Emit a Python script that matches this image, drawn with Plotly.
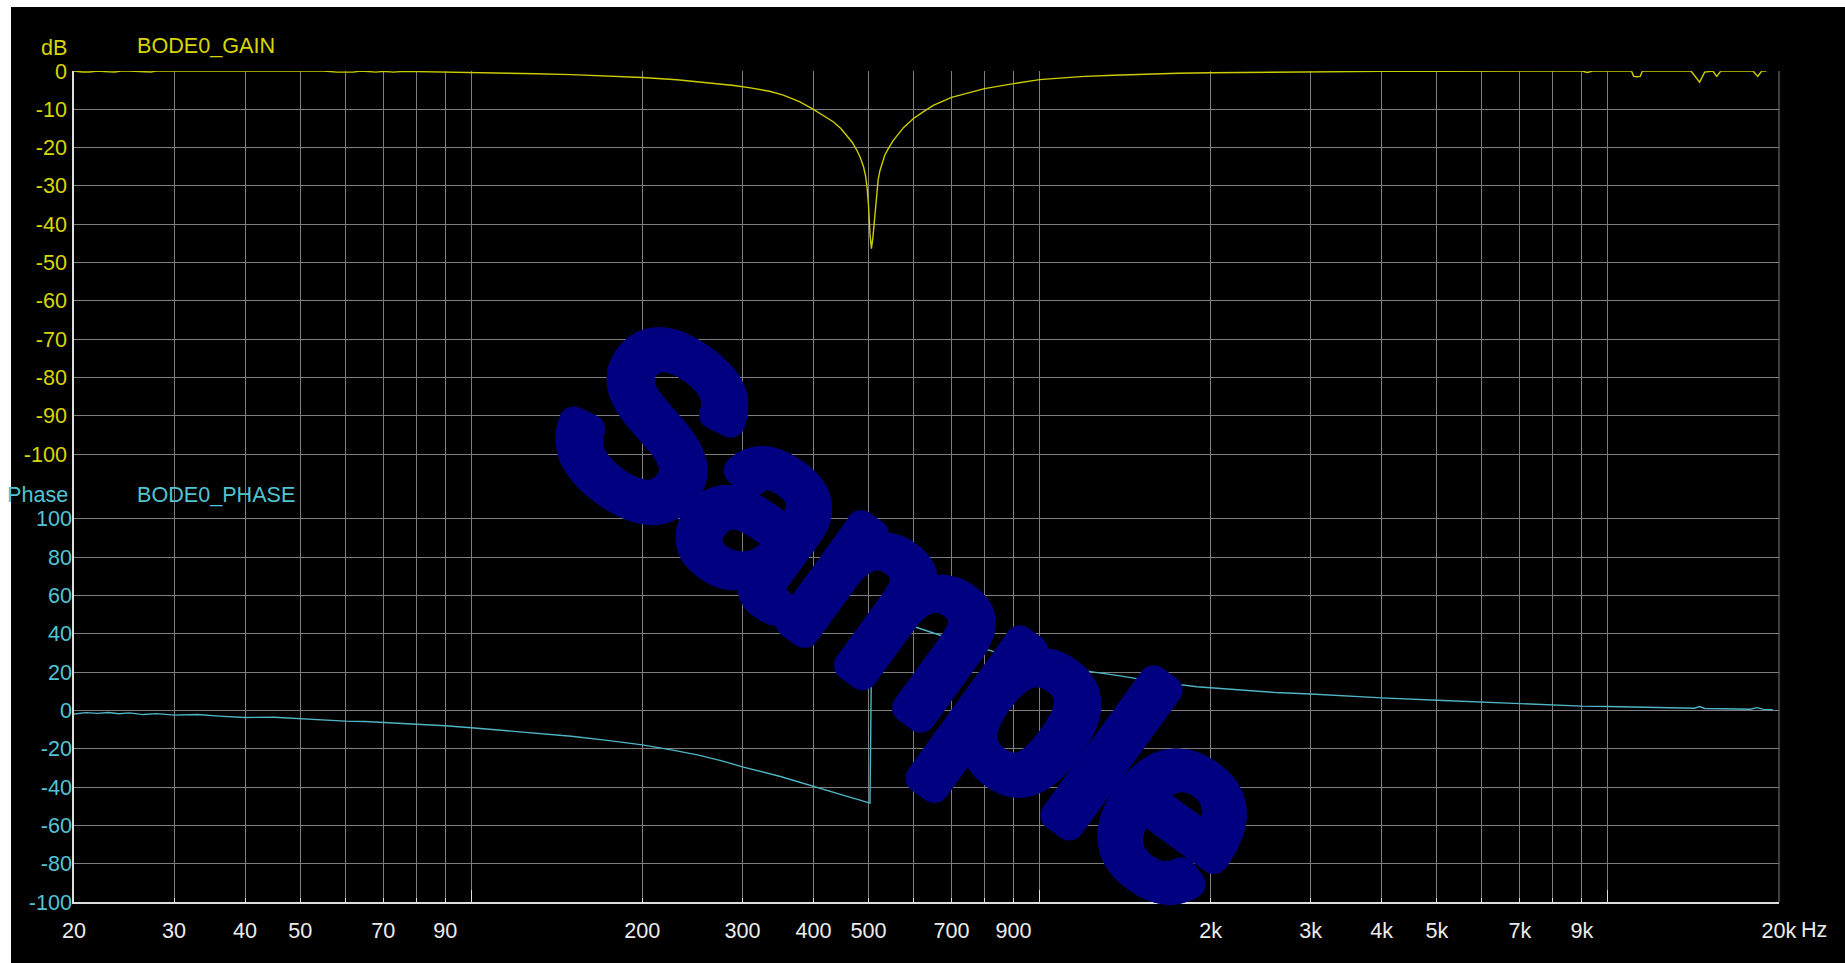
import math
import plotly.graph_objects as go

# ---------------- data ----------------
gain_freq = [20, 20.7, 21.3, 22, 23, 23.6, 24.2, 25, 26.7, 27.3, 27.9, 29, 32, 35, 40, 45, 50,
             55, 58, 60, 62, 64, 66, 68, 70, 73, 76, 80, 90, 100, 115, 130, 150, 175, 200,
             230, 260, 290, 310, 335, 354, 378, 400, 420, 434, 447, 458, 468, 477, 484, 490,
             494, 497, 500, 503, 506, 509, 511, 514, 517, 520, 524, 534, 543, 553, 576, 600,
             625, 650, 700, 750, 800, 900, 1000, 1100, 1200, 1350, 1500, 1750, 2000, 2500,
             3000, 4000, 5000, 7000, 9000, 9200, 9400, 11000, 11100, 11250, 11400, 11500,
             14000, 14500, 14800, 15300, 15540, 15800, 18000, 18350, 18650, 19000]
gain_db = [0.0, -0.25, -0.25, 0.0, -0.2, -0.25, 0.0, 0.0, -0.2, -0.25, 0.0, 0.0, 0.0, 0.0, 0.0, 0.0, 0.0,
           0.0, -0.3, -0.2, -0.3, 0.0, -0.25, -0.3, -0.1, -0.3, -0.1, -0.15, -0.25, -0.4, -0.55, -0.7, -0.95, -1.3, -1.7,
           -2.3, -3.0, -3.8, -4.4, -5.3, -6.3, -8.0, -10.0, -11.9, -13.3, -15.0, -16.8, -18.6, -20.7, -22.7, -25.0,
           -27.3, -30.3, -35.0, -42.4, -46.4, -43.5, -40.7, -35.5, -31.1, -28.3, -25.9, -22.0, -20.0, -18.1, -14.8, -12.4,
           -10.6, -9.0, -6.9, -5.7, -4.6, -3.3, -2.25, -1.8, -1.4, -1.1, -0.85, -0.6, -0.45, -0.3,
           -0.2, -0.1, -0.05, 0.0, 0.0, -0.4, 0.0, 0.0, -1.4, -1.5, -1.4, 0.0,
           0.0, -2.9, -0.3, 0.0, -1.4, 0.0, 0.0, -1.4, 0.0, 0.0]

phase_freq = [20, 21, 22, 23, 24, 25, 26.5, 28, 30, 33, 36, 40, 45, 50, 55, 60, 65, 70, 75, 80,
              90, 100, 115, 133, 150, 175, 200, 225, 250, 275, 300, 350, 400, 430, 460, 480,
              495, 503, 507, 520, 550, 597, 646, 724, 846, 974, 1178, 1358, 1600, 1890, 2200,
              2600, 3000, 3500, 4000, 5000, 6000, 7000, 8000, 9000, 10000, 12000, 14200,
              14500, 14800, 16000, 17800, 18300, 18800, 19500]
phase_deg = [-1.9, -1.2, -1.6, -1.1, -1.8, -1.3, -2.2, -1.7, -2.5, -2.2, -3.0, -3.7, -3.6, -4.4, -4.8,
             -5.6, -5.8, -6.3, -6.8, -7.2, -8.0, -9.1, -10.5, -12.0, -13.5, -15.8, -18.0, -20.6,
             -23.2, -26.2, -29.5, -34.5, -39.8, -42.4, -45.0, -46.6, -47.6, -48.4, 47.0, 46.6,
             45.5, 44.0, 40.5, 35.8, 30.0, 26.2, 21.0, 18.4, 15.0, 12.3, 10.8, 9.3, 8.5, 7.4,
             6.5, 5.3, 4.3, 3.4, 2.8, 2.2, 2.0, 1.5, 1.1, 2.0, 1.0, 0.8, 0.6, 1.4, 0.5, 0.3]

x_tickvals = [20, 30, 40, 50, 60, 70, 80, 90, 100, 200, 300, 400, 500, 600, 700, 800, 900,
              1000, 2000, 3000, 4000, 5000, 6000, 7000, 8000, 9000, 10000, 20000]
x_ticktext = ["20", "30", "40", "50", "", "70", "", "90", "", "200", "300", "400", "500", "",
              "700", "", "900", "", "2k", "3k", "4k", "5k", "", "7k", "", "9k", "", "20k"]
decade_ticks = [100, 1000, 10000]
gain_ticks = [0, -10, -20, -30, -40, -50, -60, -70, -80, -90, -100]
phase_ticks = [100, 80, 60, 40, 20, 0, -20, -40, -60, -80, -100]

# ---------------- geometry / style ----------------
W, H = 1845, 963
ML, MR, MT, MB = 74, 66, 71, 61
PW, PH = W - ML - MR, H - MT - MB
GAIN_TOP_PX, GAIN_BOT_PX = 71.0, 454.0      # 0 dB and -100 dB rows
PHASE_TOP_PX, PHASE_BOT_PX = 518.7, 902.0    # +100 and -100 deg rows


def px2x(px):
    return (px - ML) / PW


def py2y(py):
    return (H - MB - py) / PH


gain_per_px = 100.0 / (GAIN_BOT_PX - GAIN_TOP_PX)
gain_range = [0 - (H - MB - GAIN_TOP_PX) * gain_per_px, 0 + (GAIN_TOP_PX - MT) * gain_per_px]
ph_per_px = 200.0 / (PHASE_BOT_PX - PHASE_TOP_PX)
phase_range = [-100 - (H - MB - PHASE_BOT_PX) * ph_per_px, 100 + (PHASE_TOP_PX - MT) * ph_per_px]

FONT = "Liberation Sans, Arial, sans-serif"
FS = 21.6
YEL = "#d6d600"
YEL_LINE = "#cccc00"
CYAN = "#52c3d3"
CYAN_LINE = "#4fb4c4"
GRID = "#7d7d7d"
AXW = "#dedede"
TXT = "#ececec"
NAVY = "#000080"

xr = [math.log10(20), math.log10(20000)]

fig = go.Figure()
fig.add_trace(go.Scatter(x=gain_freq, y=gain_db, mode="lines", line=dict(color=YEL_LINE, width=1.4),
                         xaxis="x", yaxis="y", hoverinfo="skip"))
fig.add_trace(go.Scatter(x=phase_freq, y=phase_deg, mode="lines", line=dict(color=CYAN_LINE, width=1.4),
                         xaxis="x", yaxis="y2", hoverinfo="skip"))
fig.add_trace(go.Scatter(x=[], y=[], xaxis="x2", yaxis="y", hoverinfo="skip"))

# outline-like halo for the watermark
shadow = []
for r in (13, 9.5, 6, 3):
    for k in range(0, 360, 12):
        a = math.radians(k)
        shadow.append(f"{r*math.cos(a):.1f}px {r*math.sin(a):.1f}px 0px {NAVY}")
shadow = ", ".join(shadow)

fig.update_layout(
    width=W, height=H,
    margin=dict(l=ML, r=MR, t=MT, b=MB, pad=0),
    paper_bgcolor="white",
    plot_bgcolor="black",
    showlegend=False,
    hovermode=False,
    xaxis=dict(type="log", range=xr, tickmode="array", tickvals=x_tickvals, ticktext=x_ticktext,
               showgrid=True, gridcolor=GRID, gridwidth=1, zeroline=False,
               ticks="inside", ticklen=4, tickcolor=AXW, tickwidth=1,
               showline=True, linecolor=AXW, linewidth=1.5,
               tickfont=dict(family=FONT, size=FS, color=TXT), ticklabelstandoff=8),
    xaxis2=dict(type="log", range=xr, overlaying="x", anchor="y", side="bottom",
                tickmode="array", tickvals=decade_ticks, showticklabels=False,
                ticks="inside", ticklen=12, tickcolor=AXW, tickwidth=1,
                showgrid=False, zeroline=False, showline=False),
    yaxis=dict(range=gain_range, tickmode="array", tickvals=gain_ticks,
               ticktext=[str(v) for v in gain_ticks],
               showgrid=True, gridcolor=GRID, gridwidth=1, zeroline=False,
               showline=True, linecolor=AXW, linewidth=1.5, ticks="",
               tickfont=dict(family=FONT, size=FS, color=YEL), ticklabelstandoff=1),
    yaxis2=dict(range=phase_range, overlaying="y", side="left", anchor="x",
                tickmode="array", tickvals=phase_ticks, ticktext=[str(v) for v in phase_ticks],
                showgrid=True, gridcolor=GRID, gridwidth=1, zeroline=False,
                showline=False, ticks="",
                tickfont=dict(family=FONT, size=FS, color=CYAN), ticklabelstandoff=1),
)

# black canvas (white margin at top and left like the reference)
fig.add_shape(type="rect", xref="paper", yref="paper",
              x0=px2x(11), x1=px2x(W + 5), y0=py2y(H + 5), y1=py2y(7),
              fillcolor="black", line=dict(width=0), layer="below")
# right border of the plot
fig.add_shape(type="line", xref="paper", yref="paper", x0=1, x1=1, y0=0, y1=1,
              line=dict(color=GRID, width=1), layer="below")

ann = [
    dict(text="dB", x=px2x(69), y=py2y(47), xanchor="right", yanchor="middle",
         font=dict(family=FONT, size=FS, color=YEL)),
    dict(text="BODE0_GAIN", x=px2x(135), y=py2y(46), xanchor="left", yanchor="middle",
         font=dict(family=FONT, size=FS, color=YEL)),
    dict(text="Phase", x=px2x(70), y=py2y(494), xanchor="right", yanchor="middle",
         font=dict(family=FONT, size=FS, color=CYAN)),
    dict(text="BODE0_PHASE", x=px2x(135), y=py2y(494), xanchor="left", yanchor="middle",
         font=dict(family=FONT, size=FS, color=CYAN)),
    dict(text="Hz", x=px2x(1799), y=py2y(929), xanchor="left", yanchor="middle",
         font=dict(family=FONT, size=FS, color=TXT)),
    dict(text="Sample", x=px2x(913), y=py2y(613), xanchor="center", yanchor="middle",
         textangle=36,
         font=dict(family=FONT, size=236, color=NAVY, weight="normal", shadow=shadow)),
]
for a in ann:
    fig.add_annotation(xref="paper", yref="paper", showarrow=False, **a)

fig.write_html("out.html")
